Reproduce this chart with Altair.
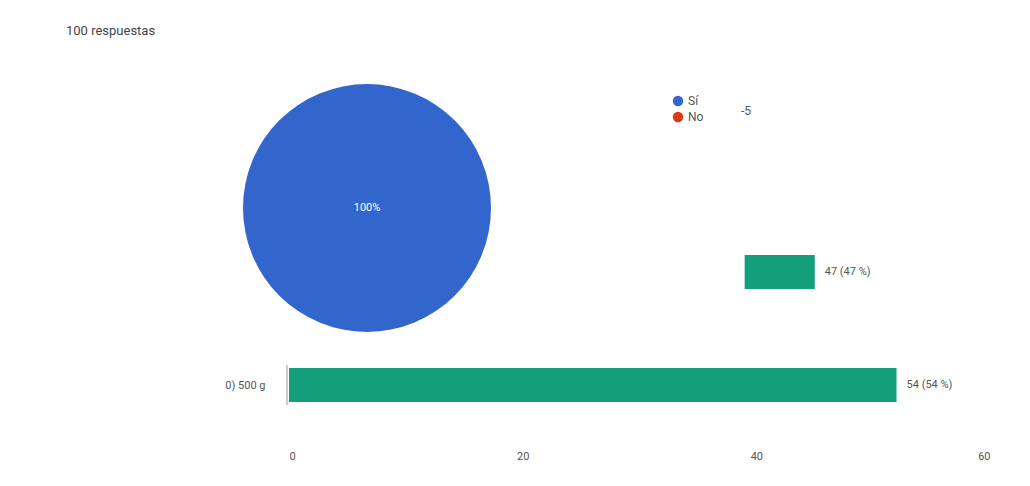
import altair as alt
import pandas as pd

# Pie (Google Forms style)
pie_labels = ["Sí", "No"]
pie_values = [100, 0]
pie_center_text = ["100%"]

# Bars
bar_cats = ["b1", "0) 500 g"]
bar_start = [39, 0]
bar_end = [45, 52]
bar_text = ["47 (47 %)", "54 (54 %)"]

x_ticks = [0, 20, 40, 60]
subtitle = ["100 respuestas"]
stray = ["-5"]

pie_df = pd.DataFrame({"label": pie_labels, "value": pie_values})
bar_df = pd.DataFrame({"cat": bar_cats, "start": bar_start, "end": bar_end, "txt": bar_text})
base_df = pd.DataFrame({"cat": ["0) 500 g"], "zero": [0]})

GREEN = "#13a07a"
GREY = "#555555"

pie = alt.Chart(pie_df).mark_arc(outerRadius=124, stroke=None).encode(
    theta=alt.Theta("value:Q", stack=True),
    color=alt.Color(
        "label:N",
        scale=alt.Scale(domain=pie_labels, range=["#3366cc", "#dc3912"]),
        legend=alt.Legend(
            title=None, orient="none", legendX=383, legendY=87,
            symbolType="circle", symbolSize=110, labelFontSize=12,
            labelColor=GREY, rowPadding=4, labelFont="Roboto",
        ),
    ),
    order=alt.Order("value:Q", sort="descending"),
    x=alt.value(78),
    y=alt.value(200),
)

pie_txt = alt.Chart(pd.DataFrame({"t": pie_center_text})).mark_text(
    color="white", fontSize=11, font="Roboto"
).encode(text="t:N", x=alt.value(78), y=alt.value(200))

sub = alt.Chart(pd.DataFrame({"t": subtitle})).mark_text(
    color="#444444", fontSize=13, font="Roboto", align="left"
).encode(text="t:N", x=alt.value(-223), y=alt.value(23))

stray_t = alt.Chart(pd.DataFrame({"t": stray})).mark_text(
    color=GREY, fontSize=12, font="Roboto", align="left"
).encode(text="t:N", x=alt.value(452), y=alt.value(103))

yenc = alt.Y(
    "cat:N",
    scale=alt.Scale(type="point", domain=bar_cats, range=[264, 377], padding=0),
    axis=alt.Axis(
        title=None, ticks=False, domain=False, labelPadding=24,
        labelExpr="datum.value == 'b1' ? '' : datum.value",
        labelColor=GREY, labelFontSize=11, labelFont="Roboto",
    ),
)
xenc = alt.X(
    "start:Q",
    scale=alt.Scale(domain=[0, 60], nice=False),
    axis=alt.Axis(
        title=None, values=x_ticks, grid=False, ticks=False, domain=False,
        labelPadding=10, labelColor=GREY, labelFontSize=11, labelFont="Roboto",
    ),
)

bars = alt.Chart(bar_df).mark_bar(size=34, color=GREEN).encode(
    x=xenc, x2="end:Q", y=yenc
)
baseline = alt.Chart(base_df).mark_tick(
    size=40, thickness=1, color="#666666", orient="vertical", xOffset=-2
).encode(x="zero:Q", y=alt.Y("cat:N"))
labels = alt.Chart(bar_df).mark_text(
    align="left", dx=10, color=GREY, fontSize=11, font="Roboto"
).encode(x="end:Q", y=alt.Y("cat:N"), text="txt:N")

chart = alt.layer(pie, pie_txt, sub, stray_t, bars, baseline, labels).properties(
    width=701, height=432,
    autosize=alt.AutoSizeParams(type="none"),
    padding={"left": 281, "top": 0, "right": 30, "bottom": 40},
).configure(background="white").configure_view(strokeWidth=0, stroke=None)

chart.save("out.html", embed_options={"renderer": "svg", "actions": False})
